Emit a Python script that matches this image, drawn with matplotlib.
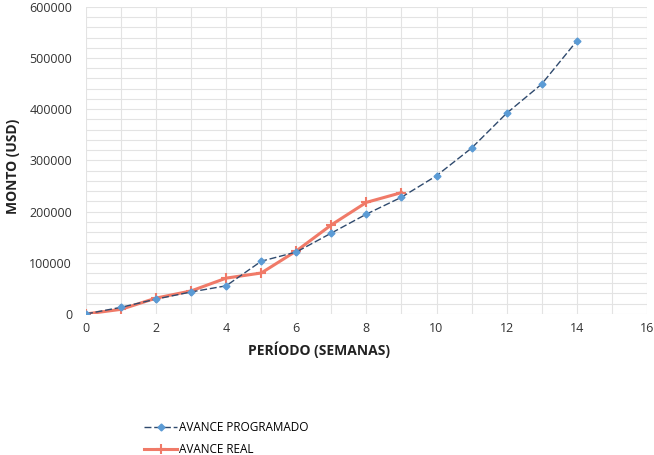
import matplotlib.pyplot as plt
from matplotlib.ticker import MultipleLocator

plt.rcParams['font.family'] = ['Open Sans', 'DejaVu Sans']

semanas_prog = [0, 1, 2, 3, 4, 5, 6, 7, 8, 9, 10, 11, 12, 13, 14]
avance_prog = [0, 13000, 29000, 43000, 55000, 103000, 121000, 158000, 195000,
               228000, 270000, 324000, 392000, 449000, 533000]

semanas_real = [0, 1, 2, 3, 4, 5, 6, 7, 8, 9]
avance_real = [0, 9000, 31000, 45000, 70000, 80000, 123000, 174000, 218000, 237000]

fig = plt.figure(figsize=(6.54, 4.55), dpi=100)
ax = fig.add_axes([0.1315, 0.31, 0.8575, 0.675])

ax.plot(semanas_prog, avance_prog, color="#2f4a6e", lw=1.0, ls=(0, (5, 2)),
        marker="D", ms=3.5, mfc="#5b9bd5", mec="#5b9bd5",
        label="AVANCE PROGRAMADO", zorder=3)
ax.plot(semanas_real, avance_real, color="#f07a68", lw=2.2,
        marker="+", ms=7, mew=1.5, label="AVANCE REAL", zorder=2)

ax.set_xlim(0, 16)
ax.set_ylim(0, 600000)
ax.xaxis.set_major_locator(MultipleLocator(2))
ax.xaxis.set_minor_locator(MultipleLocator(1))
ax.yaxis.set_major_locator(MultipleLocator(100000))
ax.yaxis.set_minor_locator(MultipleLocator(20000))
ax.grid(True, which="both", color="#e3e3e3", lw=0.8)
ax.set_axisbelow(True)
for s in ax.spines.values():
    s.set_visible(False)
ax.tick_params(which="both", length=0, labelsize=9, colors="#333333")
ax.tick_params(axis="x", pad=6)
ax.tick_params(axis="y", pad=10)

ax.set_xlabel("PERÍODO (SEMANAS)", fontsize=10, fontweight="bold", color="#222222")
ax.xaxis.set_label_coords(0.415, -0.09)
ax.set_ylabel("MONTO (USD)", fontsize=10, fontweight="bold", color="#222222")
ax.yaxis.set_label_coords(-0.118, 0.48)

ax.legend(loc="upper left", bbox_to_anchor=(0.085, -0.315), frameon=False,
          fontsize=8.5, handlelength=2.8, handletextpad=0.15, labelspacing=0.75)

fig.savefig("out.png", dpi=100)
